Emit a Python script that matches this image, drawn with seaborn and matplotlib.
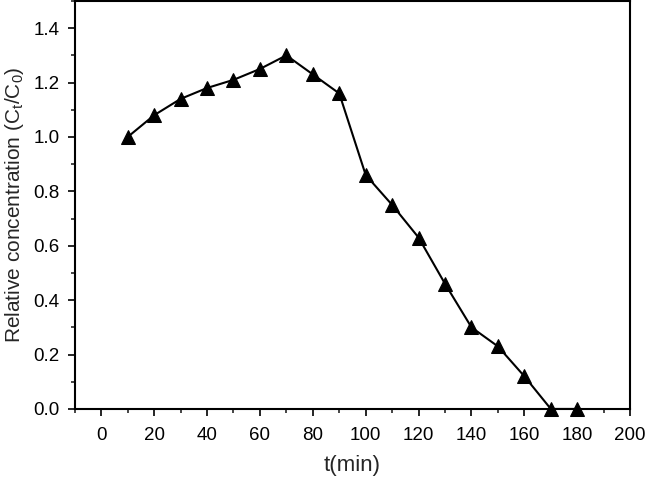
import matplotlib
matplotlib.use("Agg")
import matplotlib.pyplot as plt
import seaborn as sns
import pandas as pd
from matplotlib.ticker import MultipleLocator

# time (min) and relative concentration Ct/C0
t_min = [10, 20, 30, 40, 50, 60, 70, 80, 90, 100, 110, 120, 130, 140, 150, 160, 170, 180]
rel_conc = [1.00, 1.08, 1.14, 1.18, 1.21, 1.25, 1.30, 1.23, 1.16, 0.86, 0.75, 0.63,
            0.46, 0.30, 0.23, 0.12, 0.00, 0.00]

df = pd.DataFrame({"t": t_min, "c": rel_conc})

sns.set_style("ticks")
plt.rcParams['font.family'] = ['Liberation Sans', 'DejaVu Sans']
plt.rcParams['mathtext.default'] = 'regular'

fig = plt.figure(figsize=(6.45, 4.8), dpi=100)
ax = fig.add_axes([0.116, 0.148, 0.861, 0.850])

sns.lineplot(data=df, x="t", y="c", ax=ax, color="black", linewidth=1.5,
             marker="^", markersize=10, markeredgecolor="black",
             markerfacecolor="black", clip_on=False)

ax.set_xlim(-10, 200)
ax.set_ylim(0, 1.5)
ax.xaxis.set_major_locator(MultipleLocator(20))
ax.xaxis.set_minor_locator(MultipleLocator(10))
ax.yaxis.set_major_locator(MultipleLocator(0.2))
ax.yaxis.set_minor_locator(MultipleLocator(0.1))
ax.yaxis.set_major_formatter(matplotlib.ticker.FormatStrFormatter('%.1f'))

ax.tick_params(which="major", direction="out", length=5, width=1.2, labelsize=13.5,
               top=False, right=False, colors="black")
ax.tick_params(axis="x", which="major", pad=8)
ax.tick_params(axis="y", which="major", pad=6)
ax.tick_params(which="minor", direction="out", length=3, width=1.2, top=False, right=False)
for s in ax.spines.values():
    s.set_linewidth(1.5)
    s.set_color("black")

ax.set_xlabel("t(min)", fontsize=16, labelpad=8)
ax.set_ylabel("Relative concentration (C$_t$/C$_0$)", fontsize=15, labelpad=5)

fig.savefig("out.png", dpi=100)
